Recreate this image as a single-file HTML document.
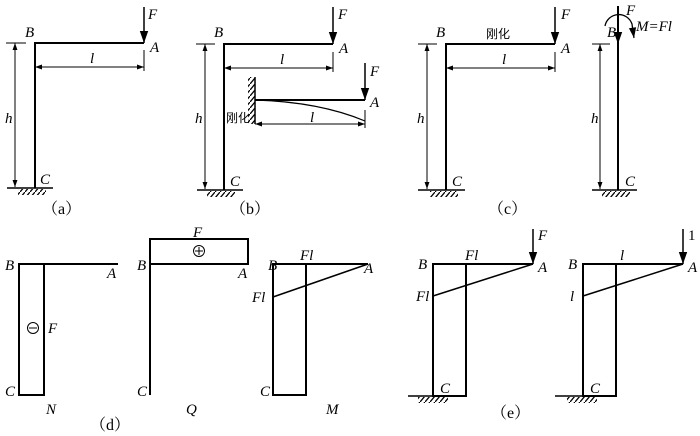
<!DOCTYPE html>
<html><head><meta charset="utf-8"><style>
body{margin:0;background:#fff}
svg{display:block}
text{font-family:"Liberation Serif","Noto Serif CJK SC",serif;font-size:15px;fill:#000}
.i{font-style:italic}
.cap{font-size:16px}
.cn{font-family:"Liberation Sans","Noto Sans CJK SC",sans-serif;font-size:12px}
</style></head><body>
<svg width="700" height="436" viewBox="0 0 700 436" xmlns="http://www.w3.org/2000/svg">
<defs>
<marker id="ar" viewBox="0 0 10 10" refX="10" refY="5" markerWidth="7" markerHeight="7" orient="auto-start-reverse"><path d="M0,1.5 L10,5 L0,8.5 z" fill="#000"/></marker>
<marker id="af" viewBox="0 0 10 10" refX="10" refY="5" markerWidth="9" markerHeight="8" orient="auto"><path d="M0,1.5 L10,5 L0,8.5 z" fill="#000"/></marker>
<pattern id="h" width="5" height="6" patternUnits="userSpaceOnUse"><path d="M5,0 L0,6" stroke="#000" stroke-width="1.3"/></pattern>
</defs>
<g stroke="#000" fill="none">
<!-- (a) -->
<path d="M35,188 V43 H144" stroke-width="2"/>
<line x1="7" y1="188" x2="53" y2="188" stroke-width="1.5"/>
<rect x="18" y="189" width="28" height="6" fill="url(#h)" stroke="none"/>
<line x1="6" y1="43" x2="26" y2="43"/>
<line x1="15" y1="43" x2="15" y2="187" marker-start="url(#ar)" marker-end="url(#ar)"/>
<line x1="144" y1="50" x2="144" y2="71"/>
<line x1="35" y1="67" x2="144" y2="67" marker-start="url(#ar)" marker-end="url(#ar)"/>
<line x1="144" y1="7" x2="144" y2="43" stroke-width="1.5" marker-end="url(#af)"/>
<!-- (b) -->
<path d="M224,190 V44 H333" stroke-width="2"/>
<line x1="197" y1="190" x2="243" y2="190" stroke-width="1.5"/>
<rect x="207" y="191" width="28" height="6" fill="url(#h)" stroke="none"/>
<line x1="196" y1="44" x2="215" y2="44"/>
<line x1="205" y1="44" x2="205" y2="189" marker-start="url(#ar)" marker-end="url(#ar)"/>
<line x1="333" y1="52" x2="333" y2="72"/>
<line x1="224" y1="68" x2="333" y2="68" marker-start="url(#ar)" marker-end="url(#ar)"/>
<line x1="333" y1="7" x2="333" y2="44" stroke-width="1.5" marker-end="url(#af)"/>
<line x1="255" y1="77" x2="255" y2="124" stroke-width="1.5"/>
<rect x="248" y="77" width="7" height="47" fill="url(#h)" stroke="none"/>
<line x1="255" y1="100" x2="365" y2="100" stroke-width="2"/>
<path d="M255,100 Q320,102 365,121" stroke-width="1.2"/>
<line x1="365" y1="110" x2="365" y2="128"/>
<line x1="255" y1="124" x2="365" y2="124" marker-start="url(#ar)" marker-end="url(#ar)"/>
<line x1="365" y1="63" x2="365" y2="100" stroke-width="1.5" marker-end="url(#af)"/>
<!-- (c) -->
<path d="M446,190 V44 H555" stroke-width="2"/>
<line x1="418" y1="190" x2="465" y2="190" stroke-width="1.5"/>
<rect x="430" y="191" width="28" height="6" fill="url(#h)" stroke="none"/>
<line x1="418" y1="44" x2="437" y2="44"/>
<line x1="427" y1="44" x2="427" y2="189" marker-start="url(#ar)" marker-end="url(#ar)"/>
<line x1="555" y1="52" x2="555" y2="72"/>
<line x1="446" y1="68" x2="555" y2="68" marker-start="url(#ar)" marker-end="url(#ar)"/>
<line x1="555" y1="7" x2="555" y2="44" stroke-width="1.5" marker-end="url(#af)"/>
<line x1="618" y1="6" x2="618" y2="190" stroke-width="2"/>
<line x1="618" y1="6" x2="618" y2="44" stroke-width="1.5" marker-end="url(#af)"/>
<line x1="592" y1="190" x2="637" y2="190" stroke-width="1.5"/>
<rect x="602" y="191" width="28" height="6" fill="url(#h)" stroke="none"/>
<line x1="592" y1="44" x2="610" y2="44"/>
<line x1="600" y1="44" x2="600" y2="189" marker-start="url(#ar)" marker-end="url(#ar)"/>
<path d="M605,26 A14,14 0 0 1 632,24 L634,38" stroke-width="1.3" marker-end="url(#af)"/>
<!-- (d) N -->
<rect x="19" y="264" width="25" height="131" stroke-width="2"/>
<line x1="44" y1="264" x2="118" y2="264" stroke-width="2"/>
<circle cx="33" cy="328" r="5.5"/><line x1="29" y1="328" x2="37" y2="328"/>
<!-- Q -->
<line x1="150" y1="264" x2="150" y2="395" stroke-width="2"/>
<rect x="150" y="239" width="98" height="25" stroke-width="2"/>
<circle cx="199" cy="251" r="5.5"/><line x1="195" y1="251" x2="203" y2="251"/><line x1="199" y1="247" x2="199" y2="255"/>
<!-- M -->
<rect x="273" y="264" width="33" height="131" stroke-width="2"/>
<line x1="306" y1="264" x2="368" y2="264" stroke-width="2"/>
<line x1="273" y1="297" x2="368" y2="264" stroke-width="1.5"/>
<!-- (e) -->
<rect x="433" y="264" width="33" height="132" stroke-width="2"/>
<line x1="466" y1="264" x2="533" y2="264" stroke-width="2"/>
<line x1="433" y1="296" x2="533" y2="264" stroke-width="1.5"/>
<line x1="533" y1="229" x2="533" y2="264" stroke-width="1.5" marker-end="url(#af)"/>
<line x1="408" y1="396" x2="450" y2="396" stroke-width="1.5"/>
<rect x="418" y="397" width="30" height="6" fill="url(#h)" stroke="none"/>
<rect x="583" y="264" width="33" height="132" stroke-width="2"/>
<line x1="616" y1="264" x2="683" y2="264" stroke-width="2"/>
<line x1="583" y1="296" x2="683" y2="264" stroke-width="1.5"/>
<line x1="683" y1="229" x2="683" y2="264" stroke-width="1.5" marker-end="url(#af)"/>
<line x1="555" y1="396" x2="600" y2="396" stroke-width="1.5"/>
<rect x="567" y="397" width="30" height="6" fill="url(#h)" stroke="none"/>
</g>
<g>
<text class="i" x="148" y="19">F</text><text class="i" x="25" y="37">B</text><text class="i" x="150" y="52">A</text>
<text class="i" x="90" y="63">l</text><text class="i" x="5" y="123">h</text><text class="i" x="40" y="184">C</text>
<text class="cap" x="42" y="214">（a）</text>
<text class="i" x="338" y="19">F</text><text class="i" x="214" y="37">B</text><text class="i" x="339" y="53">A</text>
<text class="i" x="280" y="64">l</text><text class="i" x="195" y="123">h</text><text class="i" x="230" y="186">C</text>
<text class="i" x="370" y="76">F</text><text class="i" x="370" y="107">A</text><text class="i" x="310" y="122">l</text>
<text class="cn" x="226" y="122">刚化</text>
<text class="cap" x="230" y="214">（b）</text>
<text class="i" x="561" y="19">F</text><text class="i" x="436" y="37">B</text><text class="i" x="561" y="53">A</text>
<text class="i" x="502" y="64">l</text><text class="i" x="417" y="123">h</text><text class="i" x="452" y="186">C</text>
<text class="cn" x="486" y="38">刚化</text>
<text class="cap" x="488" y="214">（c）</text>
<text class="i" x="626" y="15">F</text><text class="i" x="607" y="37">B</text><text class="i" x="636" y="31">M=Fl</text>
<text class="i" x="591" y="123">h</text><text class="i" x="625" y="186">C</text>
<text class="i" x="5" y="270">B</text><text class="i" x="107" y="278">A</text><text class="i" x="48" y="333">F</text>
<text class="i" x="5" y="396">C</text><text class="i" x="46" y="414">N</text>
<text class="i" x="193" y="237">F</text><text class="i" x="137" y="270">B</text><text class="i" x="238" y="278">A</text>
<text class="i" x="137" y="396">C</text><text class="i" x="186" y="414">Q</text>
<text class="i" x="268" y="270">B</text><text class="i" x="300" y="260">Fl</text><text class="i" x="252" y="302">Fl</text>
<text class="i" x="364" y="273">A</text><text class="i" x="260" y="396">C</text><text class="i" x="326" y="414">M</text>
<text class="cap" x="90" y="430">（d）</text>
<text class="i" x="418" y="269">B</text><text class="i" x="465" y="260">Fl</text><text class="i" x="416" y="301">Fl</text>
<text class="i" x="538" y="272">A</text><text class="i" x="538" y="240">F</text><text class="i" x="440" y="393">C</text>
<text class="i" x="568" y="269">B</text><text class="i" x="620" y="260">l</text><text class="i" x="570" y="301">l</text>
<text class="i" x="688" y="272">A</text><text x="688" y="240">1</text><text class="i" x="590" y="393">C</text>
<text class="cap" x="491" y="418">（e）</text>
</g>
</svg>
</body></html>
